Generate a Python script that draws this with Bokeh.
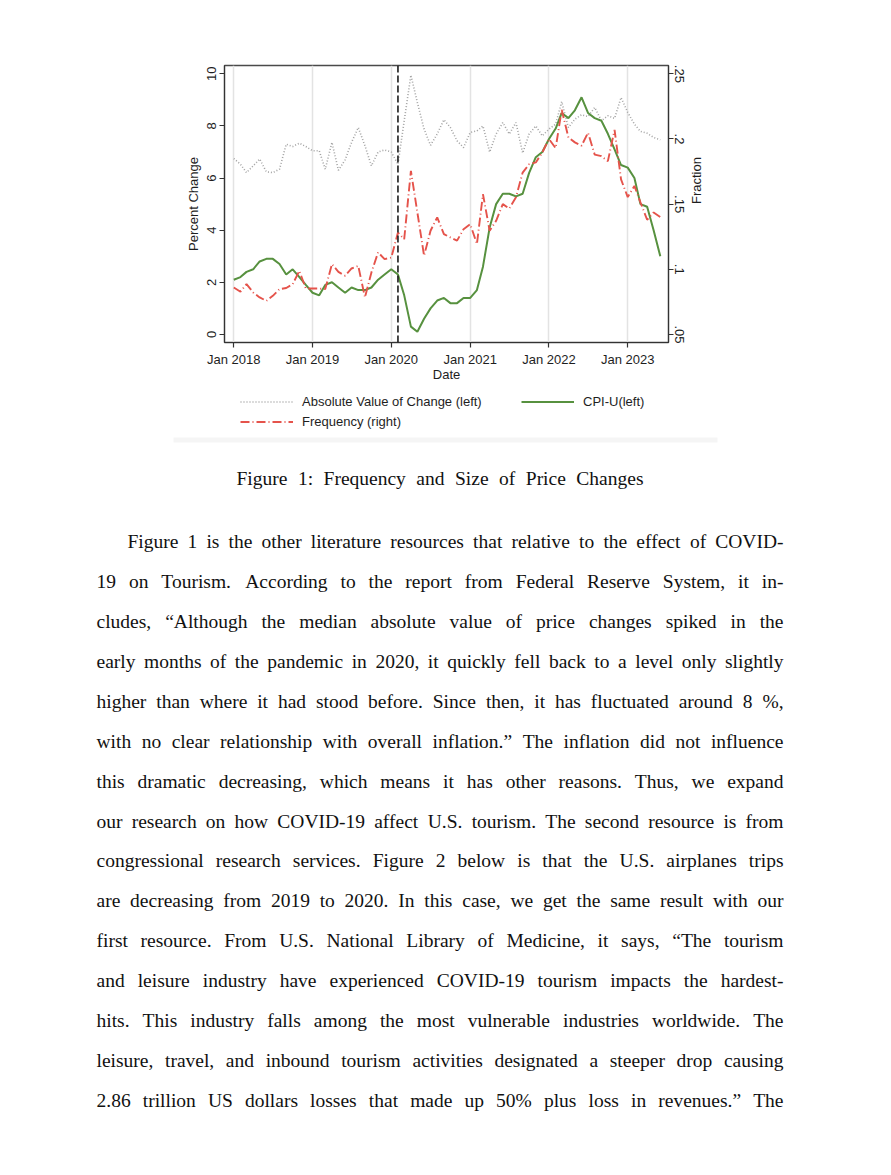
import math
import numpy as np
import pandas as pd
from bokeh.plotting import figure
from bokeh.models import (Range1d, LinearAxis, FixedTicker, Legend, LegendItem, Span,
                          DatetimeTickFormatter, CustomJSTickFormatter, ColumnDataSource)
from bokeh.embed import file_html
from bokeh.resources import INLINE
from bokeh.core.properties import value

# ---------------- data ----------------
months = pd.date_range("2018-01-01", periods=66, freq="MS")

abs_change = [6.75, 6.53, 6.21, 6.47, 6.73, 6.24, 6.21, 6.34, 7.30, 7.21, 7.34, 7.21,
              7.05, 7.05, 6.34, 7.37, 6.30, 6.70, 7.37, 7.94, 7.24, 6.47, 7.00, 7.08,
              7.00, 6.53, 8.20, 9.95, 8.90, 7.88, 7.26, 7.69, 8.24, 7.94, 7.43, 7.17,
              7.75, 7.81, 8.00, 7.00, 7.69, 8.13, 7.69, 8.13, 6.96, 7.69, 8.00, 7.62,
              7.88, 8.07, 8.93, 7.94, 8.26, 8.43, 8.36, 8.71, 8.20, 8.39, 8.29, 9.09,
              8.52, 8.07, 7.79, 7.72, 7.56, 7.47]

cpi_u = [2.1, 2.2, 2.4, 2.5, 2.8, 2.9, 2.9, 2.7, 2.3, 2.5, 2.2, 1.9,
         1.6, 1.5, 1.9, 2.0, 1.8, 1.6, 1.8, 1.7, 1.7, 1.8, 2.1, 2.3,
         2.5, 2.3, 1.5, 0.3, 0.1, 0.6, 1.0, 1.3, 1.4, 1.2, 1.2, 1.4,
         1.4, 1.7, 2.6, 4.1, 5.0, 5.4, 5.4, 5.3, 5.4, 6.2, 6.8, 7.0,
         7.5, 7.9, 8.5, 8.3, 8.6, 9.1, 8.5, 8.3, 8.2, 7.7, 7.1, 6.5,
         6.4, 6.0, 5.0, 4.9, 4.0, 3.0]

frequency = [0.0860, 0.0828, 0.0886, 0.0822, 0.0784, 0.0758, 0.0796, 0.0848, 0.0856, 0.0886, 0.0988, 0.0852,
             0.0852, 0.0852, 0.0848, 0.1040, 0.0980, 0.0950, 0.1006, 0.1026, 0.0784, 0.0976, 0.1130, 0.1078,
             0.1090, 0.1282, 0.1232, 0.1756, 0.1436, 0.1104, 0.1296, 0.1398, 0.1270, 0.1244, 0.1220, 0.1308,
             0.1346, 0.1194, 0.1576, 0.1296, 0.1372, 0.1500, 0.1466, 0.1552, 0.1742, 0.1806, 0.1820, 0.1896,
             0.2000, 0.1930, 0.2224, 0.2012, 0.1974, 0.1948, 0.2048, 0.1880, 0.1868, 0.1830, 0.2070, 0.1690,
             0.1554, 0.1640, 0.1514, 0.1380, 0.1436, 0.1400]

year_ticks = ["2018-01-01", "2019-01-01", "2020-01-01", "2021-01-01", "2022-01-01", "2023-01-01"]
left_ticks = [0, 2, 4, 6, 8, 10]
right_ticks = [0.05, 0.10, 0.15, 0.20, 0.25]
event_date = "2020-02-01"

legend_labels = ["Absolute Value of Change (left)", "Frequency (right)", "CPI-U(left)"]

caption = "Figure 1: Frequency and Size of Price Changes"
body_lines = [
    "Figure 1 is the other literature resources that relative to the effect of COVID-",
    "19 on Tourism. According to the report from Federal Reserve System, it in-",
    "cludes, \u201cAlthough the median absolute value of price changes spiked in the",
    "early months of the pandemic in 2020, it quickly fell back to a level only slightly",
    "higher than where it had stood before. Since then, it has fluctuated around 8 %,",
    "with no clear relationship with overall inflation.\u201d The inflation did not influence",
    "this dramatic decreasing, which means it has other reasons. Thus, we expand",
    "our research on how COVID-19 affect U.S. tourism. The second resource is from",
    "congressional research services. Figure 2 below is that the U.S. airplanes trips",
    "are decreasing from 2019 to 2020. In this case, we get the same result with our",
    "first resource. From U.S. National Library of Medicine, it says, \u201cThe tourism",
    "and leisure industry have experienced COVID-19 tourism impacts the hardest-",
    "hits. This industry falls among the most vulnerable industries worldwide. The",
    "leisure, travel, and inbound tourism activities designated a steeper drop causing",
    "2.86 trillion US dollars losses that made up 50% plus loss in revenues.\u201d The",
]

# ---------------- styles ----------------
SANS = "Liberation Sans"
TXT = "#1e1e1e"
ABS_STYLE = dict(line_color="#a3a3a3", line_width=1.6, line_dash="1 2")
CPI_STYLE = dict(line_color="#57913f", line_width=2)
FRQ_STYLE = dict(line_color="#e5534b", line_width=1.9, line_dash="9 3 1 3")

def ms(d):
    return pd.Timestamp(d).value // 10**6

# ---------------- chart ----------------
CH_H = 388
src = ColumnDataSource(dict(date=months, abs_change=abs_change, cpi=cpi_u, freq=frequency))

p = figure(width=891, height=CH_H, x_axis_type="datetime",
           x_range=Range1d(ms("2017-11-19"), ms("2023-07-09")),
           y_range=Range1d(-0.31, 10.32),
           output_backend="svg", toolbar_location=None,
           min_border_left=224, min_border_right=223, min_border_top=65,
           min_border_bottom=CH_H - 342)
p.background_fill_color = "white"
p.border_fill_color = "white"
p.outline_line_color = "#4a4a4a"
p.outline_line_width = 1.3

p.extra_y_ranges = {"frac": Range1d(0.0438, 0.2564)}

p.line("date", "abs_change", source=src, **ABS_STYLE)
p.line("date", "cpi", source=src, **CPI_STYLE)
p.line("date", "freq", source=src, y_range_name="frac", **FRQ_STYLE)

p.add_layout(Span(location=ms(event_date), dimension="height", line_color="#1a1a1a",
                  line_width=1.6, line_dash="7 3"))

p.xaxis.ticker = FixedTicker(ticks=[ms(d) for d in year_ticks])
p.xaxis.formatter = DatetimeTickFormatter(years="%b %Y", months="%b %Y", days="%b %Y")
p.xaxis.axis_label = "Date"
p.yaxis.ticker = FixedTicker(ticks=left_ticks)
p.yaxis.axis_label = "Percent Change"

ax_r = LinearAxis(y_range_name="frac", axis_label="Fraction",
                  ticker=FixedTicker(ticks=right_ticks),
                  formatter=CustomJSTickFormatter(
                      code="var s = tick.toFixed(2).replace(/^0/, ''); return s.replace(/0$/, '');"))
p.add_layout(ax_r, "right")

for ax in [p.xaxis[0], p.yaxis[0], ax_r]:
    ax.axis_line_color = "#333333"
    ax.axis_line_width = 1.2
    ax.major_tick_line_color = "#333333"
    ax.major_tick_line_width = 1.2
    ax.major_tick_out = 5
    ax.major_tick_in = 0
    ax.minor_tick_line_color = None
    ax.major_label_text_font = SANS
    ax.major_label_text_font_size = "13px"
    ax.major_label_text_color = TXT
    ax.axis_label_text_font = SANS
    ax.axis_label_text_font_size = "13px"
    ax.axis_label_text_font_style = "normal"
    ax.axis_label_text_color = TXT

p.xaxis.major_label_standoff = 4
p.xaxis.axis_label_standoff = -3
p.yaxis.major_label_orientation = "vertical"
p.yaxis.major_label_standoff = 3
p.yaxis.axis_label_standoff = 4
ax_r.major_label_orientation = "vertical"
ax_r.major_label_standoff = 1
ax_r.axis_label_standoff = 10
ax_r.axis_label_orientation = math.pi / 2

p.xgrid.grid_line_color = "#e3e3e3"
p.xgrid.grid_line_width = 1.5
p.ygrid.grid_line_color = None

# ---------------- page (legend, caption, body text) ----------------
TOP = CH_H
t = figure(width=891, height=1175 - TOP, x_range=Range1d(0, 891), y_range=Range1d(1175, TOP),
           output_backend="svg", toolbar_location=None, min_border=0,
           x_axis_location=None, y_axis_location=None)
t.outline_line_color = None
t.grid.visible = False
t.background_fill_color = "white"
t.border_fill_color = "white"

# faint bottom edge of the embedded graph image
t.quad(left=[173], right=[717], top=[437], bottom=[442], fill_color="#f5f5f5", line_color=None)

# legend keys: renderers holding no visible data, styled like the chart lines
nan = np.array([np.nan])
k_abs = t.line(x=nan, y=nan, **ABS_STYLE)
k_frq = t.line(x=nan, y=nan, **FRQ_STYLE)
k_cpi = t.line(x=nan, y=nan, **CPI_STYLE)
leg_kw = dict(glyph_width=53, glyph_height=15, label_height=15, label_standoff=9, spacing=5,
              padding=0, margin=0, border_line_alpha=0, background_fill_alpha=0,
              label_text_font=SANS, label_text_font_size="13px", label_text_color=TXT)
leg1 = Legend(items=[LegendItem(label=legend_labels[0], renderers=[k_abs]),
                     LegendItem(label=legend_labels[1], renderers=[k_frq])],
              location=(240, 1175 - 428.5), **leg_kw)
leg2 = Legend(items=[LegendItem(label=legend_labels[2], renderers=[k_cpi])],
              location=(521, 1175 - 408.5), **leg_kw)
t.add_layout(leg1, "center")
t.add_layout(leg2, "center")

SERIF = "Liberation Serif"
FS = 19.5
W = {' ': 250, '%': 833, '(': 333, ')': 333, ',': 250, '-': 333, '.': 250, ':': 278,
     ';': 278, '\u201c': 444, '\u201d': 444, "'": 180}
for c in "0123456789":
    W[c] = 500
W.update(dict(zip("abcdefghijklmnopqrstuvwxyz",
                  [444, 500, 444, 500, 444, 333, 500, 500, 278, 278, 500, 278, 778, 500, 500,
                   500, 500, 333, 389, 278, 500, 500, 722, 500, 500, 444])))
W.update(dict(zip("ABCDEFGHIJKLMNOPQRSTUVWXYZ",
                  [722, 667, 667, 722, 611, 556, 722, 722, 333, 389, 722, 611, 889, 722, 722,
                   556, 722, 667, 556, 611, 722, 722, 944, 722, 722, 611])))

def text_w(s):
    return sum(W.get(c, 500) for c in s) * FS / 1000.0

lx, ly, lt, rx, ry, rt = [], [], [], [], [], []

def justify(line, x0, x1, y):
    words = line.split(" ")
    widths = [text_w(w) for w in words]
    gap = (x1 - x0 - sum(widths)) / (len(words) - 1)
    x = x0
    for j, (w, wd) in enumerate(zip(words, widths)):
        if j == len(words) - 1:
            rx.append(x1); ry.append(y); rt.append(w)
        else:
            lx.append(x); ly.append(y); lt.append(w)
        x += wd + gap

justify(caption, 236, 643, 478)
for i, line in enumerate(body_lines):
    justify(line, 127 if i == 0 else 96, 783, 541 + 39.93 * i)

t.text(x=lx, y=ly, text=lt, text_font=value(SERIF), text_font_size=f"{FS}px",
       text_align="left", text_baseline="middle", text_color="#111111")
t.text(x=rx, y=ry, text=rt, text_font=value(SERIF), text_font_size=f"{FS}px",
       text_align="right", text_baseline="middle", text_color="#111111")

open("out.html", "w").write(file_html([p, t], INLINE))
